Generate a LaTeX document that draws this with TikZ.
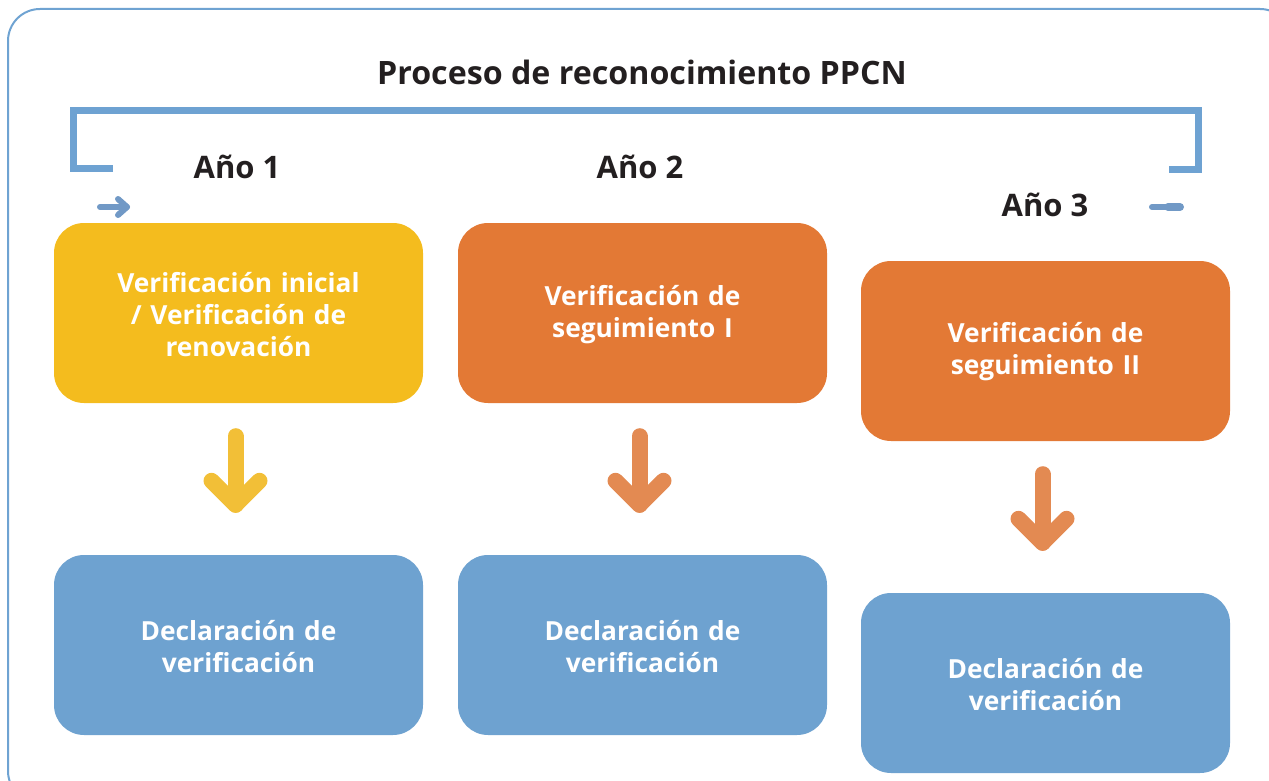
\documentclass[tikz,border=0pt]{standalone}
\usepackage{fontspec}
\setmainfont{Open Sans}
\usetikzlibrary{calc}
\definecolor{bordercol}{HTML}{6FA3D2}
\definecolor{brkcol}{HTML}{6EA2D2}
\definecolor{smallarr}{HTML}{7199C6}
\definecolor{yelbox}{HTML}{F4BC1E}
\definecolor{orabox}{HTML}{E37935}
\definecolor{bluebox}{HTML}{6EA2D0}
\definecolor{yelarr}{HTML}{F2BF37}
\definecolor{oraarr}{HTML}{E38A52}
\definecolor{txtdark}{HTML}{231F20}
\tikzset{
  x=1pt, y=-1pt,
  box/.style={rounded corners=30pt, minimum width=369pt, minimum height=180pt,
    inner sep=0pt},
  boxtxt/.style={inner sep=0pt, text=white, align=center, text width=340pt,
    font=\fontsize{26.3}{32}\selectfont\bfseries},
  yearlbl/.style={text=txtdark, font=\fontsize{31}{36}\selectfont\bfseries, inner sep=0pt},
  bigarrow/.style={line width=16pt, line cap=round, line join=round},
}
\begin{document}
\begin{tikzpicture}
\useasboundingbox (0,0) rectangle (1269,781);
\clip (0,0) rectangle (1269,781);
% outer frame
\draw[bordercol, line width=2pt, rounded corners=32pt] (8,9) rectangle (1292,803);
% title
\node[text=txtdark, font=\fontsize{32.2}{38}\selectfont\bfseries, inner sep=0pt] (title) at (642,72) {Proceso de reconocimiento PPCN};
% bracket
\draw[brkcol, line width=7pt] (113,168.5) -- (73.5,168.5) -- (73.5,110.5) -- (1198,110.5) -- (1198,169.5) -- (1169,169.5);
% small start arrow
\coordinate (sa1) at (100,207);
\coordinate (sa2) at (127,207);
\draw[smallarr, line width=6pt, line cap=round, line join=round] (sa1) -- (sa2);
\draw[smallarr, line width=6pt, line cap=round, line join=round] ($(sa2)+(-9,-8)$) -- (sa2) -- ($(sa2)+(-9,8)$);
% small end mark
\coordinate (se1) at (1152,207);
\coordinate (se2) at (1180,207);
\draw[smallarr, line width=6pt, line cap=round] (se1) -- (se2);
\draw[smallarr, line width=8pt, line cap=round] ($(se2)+(-12,0)$) -- (se2);
% year labels
\node[yearlbl] (y1) at (237,167) {Año 1};
\node[yearlbl] (y2) at (640,167) {Año 2};
\node[yearlbl] (y3) at (1045,205) {Año 3};
% boxes
\node[box, fill=yelbox] (b1) at (238.5,313) {};
\node[box, fill=orabox] (b2) at (642.5,313) {};
\node[box, fill=orabox] (b3) at (1045.5,351) {};
\node[box, fill=bluebox] (b4) at (238.5,645) {};
\node[box, fill=bluebox] (b5) at (642.5,645) {};
\node[box, fill=bluebox] (b6) at (1045.5,683) {};
\node[boxtxt] (b1t) at ([yshift=-2pt]b1.center) {Verificación inicial\\/ Verificación de\\renovación};
\node[boxtxt] (b2t) at ([yshift=-2pt]b2.center) {Verificación de\\seguimiento I};
\node[boxtxt] (b3t) at ([yshift=-1pt]b3.center) {Verificación de\\seguimiento II};
\node[boxtxt] (b4t) at ([yshift=-1.5pt]b4.center) {Declaración de\\verificación};
\node[boxtxt] (b5t) at ([yshift=-1.5pt]b5.center) {Declaración de\\verificación};
\node[boxtxt] (b6t) at ([yshift=-1.5pt]b6.center) {Declaración de\\verificación};
% down arrows
\foreach \u/\l/\c in {b1/b4/yelarr, b2/b5/oraarr, b3/b6/oraarr}{
  \coordinate (t\u) at ($(\u.south)+(-3,33)$);
  \coordinate (e\u) at ($(\l.north)+(-3,-50)$);
  \draw[bigarrow, \c] (t\u) -- (e\u);
  \draw[bigarrow, \c] ($(e\u)+(-24,-24)$) -- (e\u) -- ($(e\u)+(24,-24)$);
}
\end{tikzpicture}
\end{document}
